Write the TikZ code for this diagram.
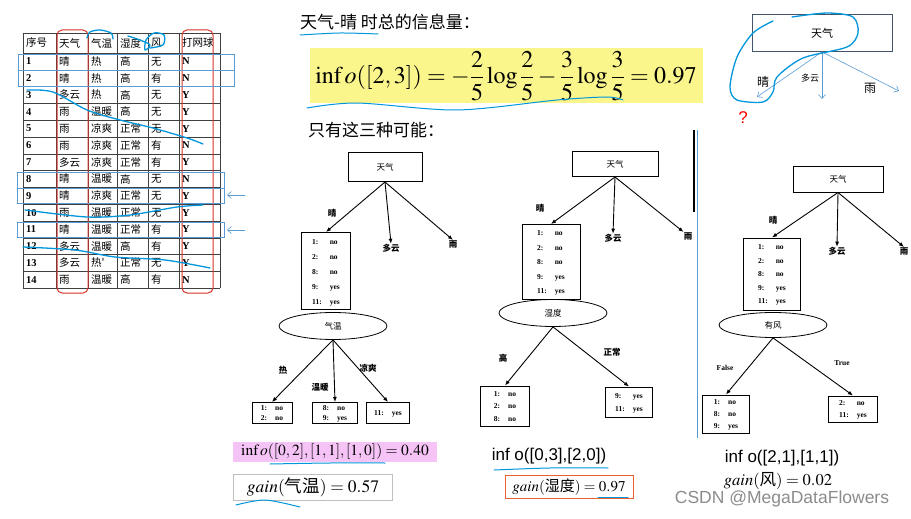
\documentclass[tikz,border=0pt]{standalone}
\usepackage{amsmath}
\usepackage{mathptmx}
\usepackage[no-math]{fontspec}
\setmainfont{Liberation Serif}
\setsansfont{Liberation Sans}
\newfontfamily\cjk{Noto Sans CJK SC}
\usetikzlibrary{arrows.meta,shapes.geometric}
\definecolor{handblue}{RGB}{0,150,220}
\definecolor{boxblue}{RGB}{91,155,213}
\definecolor{boxred}{RGB}{215,50,40}
\definecolor{hlyellow}{RGB}{250,246,140}
\definecolor{hlpink}{RGB}{245,195,245}
\definecolor{boxorange}{RGB}{235,95,45}
\definecolor{slate}{RGB}{68,84,106}
\newcommand\caselist[2][14]{\fontsize{7.5}{#1}\selectfont\bfseries\begin{tabular}{@{}l@{\hspace{8pt}}l@{}}#2\end{tabular}}

\begin{document}
\begin{tikzpicture}[x=1pt,y=-1pt,
    every node/.style={inner sep=0pt},
    tcell/.style={anchor=west,font=\fontsize{10.5}{12}\selectfont},
    grid/.style={draw=black!75,line width=0.5pt},
    redbox/.style={draw=boxred,line width=1pt,rounded corners=5pt},
    bluebox/.style={draw=boxblue,line width=0.7pt},
    barr/.style={draw=boxblue,line width=0.6pt,-{Straight Barb[length=4pt,width=7pt]}},
    hand/.style={draw=handblue,line width=1.3pt,line cap=round,line join=round},
    tbox/.style={draw,line width=1pt,font=\cjk\fontsize{8.5}{9}\selectfont},
    lbox/.style={draw,line width=1pt},
    oval/.style={draw,ellipse,line width=0.8pt,font=\cjk\fontsize{8.5}{9}\selectfont},
    tlab/.style={font=\cjk\fontsize{8.5}{9}\selectfont\bfseries},
    elab/.style={font=\fontsize{7.5}{8}\selectfont\bfseries},
    tarr/.style={line width=0.9pt,-{Latex[length=5pt,width=4pt]}},
  ]
    \fill[white] (0,0) rectangle (911,519);
    \useasboundingbox (0,0) rectangle (911,519);

    \foreach \xx in {23,56,88,117,148,179,220}
        \draw[grid] (\xx,33) -- (\xx,288);
    \draw[grid] (23,33) -- (220,33);
    \foreach \r in {0,...,14}
        \draw[grid] (23,{53+16.8*\r}) -- (220,{53+16.8*\r});
    \node[tcell] (h0) at (26,43) {\cjk 序号};
    \node[tcell] (h1) at (59,43) {\cjk 天气};
    \node[tcell] (h2) at (91,43) {\cjk 气温};
    \node[tcell] (h3) at (120,43) {\cjk 湿度};
    \node[tcell] (h4) at (151,43) {\cjk 风};
    \node[tcell] (h5) at (182,43) {\cjk 打网球};
    \foreach \n/\a/\b/\c/\d/\e [count=\r] in {1/晴/热/高/无/N, 2/晴/热/高/有/N, 3/多云/热/高/无/Y,
        4/雨/温暖/高/无/Y, 5/雨/凉爽/正常/无/Y, 6/雨/凉爽/正常/有/N, 7/多云/凉爽/正常/有/Y,
        8/晴/温暖/高/无/N, 9/晴/凉爽/正常/无/Y, 10/雨/温暖/正常/无/Y, 11/晴/温暖/正常/有/Y,
        12/多云/温暖/高/有/Y, 13/多云/热'/正常/无/Y, 14/雨/温暖/高/有/N} {
        \pgfmathsetmacro\yy{53+16.8*(\r-0.5)}
        \node[tcell] (n\r) at (26,\yy) {\textbf{\n}};
        \node[tcell] (a\r) at (59,\yy) {\cjk \a};
        \node[tcell] (b\r) at (91,\yy) {\cjk \b};
        \node[tcell] (c\r) at (120,\yy) {\cjk \c};
        \node[tcell] (d\r) at (151,\yy) {\cjk \d};
        \node[tcell] (e\r) at (182,\yy) {\textbf{\e}};
    }
    \draw[redbox] (57,30) rectangle (88,293);
    \draw[redbox] (182,30) rectangle (213,293);
    \draw[bluebox] (18,54) rectangle (234,70);
    \draw[bluebox] (18,70) rectangle (234,86);
    \draw[bluebox] (17,172) rectangle (224,188);
    \draw[bluebox] (17,188) rectangle (224,203);
    \draw[bluebox] (17,222) rectangle (224,237);
    \coordinate (p9) at (245,195);
    \coordinate (q9) at (227,195);
    \coordinate (p11) at (245,230);
    \coordinate (q11) at (227,230);
    \draw[barr] (p9) -- (q9);
    \draw[barr] (p11) -- (q11);
    \draw[hand] plot[smooth] coordinates {(87,38) (90,32) (100,30) (111,33) (113,39)};
    \draw[hand] plot[smooth] coordinates {(128,36) (140,40) (150,45) (145,50) (146,40) (154,33) (164,35) (163,45) (150,48)};
    \draw[hand] plot[smooth] coordinates {(27,90) (53,92) (87,110) (120,120) (153,128) (187,138) (203,144)};
    \draw[hand] plot[smooth] coordinates {(25,210) (87,217) (130,215) (177,207) (203,205)};
    \draw[hand] plot[smooth] coordinates {(23,247) (75,250) (115,257) (165,260) (210,268)};

    \node[anchor=west,font=\cjk\fontsize{17}{20}\selectfont] (title) at (300,22) {天气-晴 时总的信息量：};
    \draw[hand,line width=1pt] plot[smooth] coordinates {(300,35) (340,33) (378,34)};
    \node[fill=hlyellow,minimum width=393,minimum height=55] (info) at (506,76)
        {\fontsize{24}{28}\selectfont$\displaystyle\mathrm{inf}\,o([2,3])=-\frac{2}{5}\log\frac{2}{5}-\frac{3}{5}\log\frac{3}{5}=0.97$};
    \draw[hand,line width=1pt] plot[smooth] coordinates {(307,108) (357,103) (457,110) (557,100) (607,97) (623,100)};
    \node[anchor=west,font=\cjk\fontsize{17}{20}\selectfont] (only) at (308,130) {只有这三种可能：};

    \node[draw=slate,line width=0.8pt,minimum width=140,minimum height=37,font=\cjk\fontsize{11}{13}\selectfont] (wroot) at (822,33) {天气};
    \coordinate (wq) at (757,97);
    \coordinate (wc) at (822,99);
    \coordinate (wr) at (899,91);
    \draw[barr] (wroot.south) -- (wq);
    \draw[barr] (wroot.south) -- (wc);
    \draw[barr] (wroot.south) -- (wr);
    \node[font=\cjk\fontsize{12}{14}\selectfont] (wqlab) at (763,82) {晴};
    \node[font=\cjk\fontsize{9}{11}\selectfont] (wclab) at (810,78) {多云};
    \node[font=\cjk\fontsize{12}{14}\selectfont] (wrlab) at (870,88) {雨};
    \node[text=red,font=\sffamily\fontsize{17}{19}\selectfont] (qm) at (743,118) {?};
    \draw[hand] plot[smooth] coordinates {(792,17) (827,13) (853,17) (858,33) (847,47) (803,58) (777,77) (773,92) (763,102) (737,100) (730,87) (737,57) (753,33) (773,21)};

    \node[tbox,minimum width=74,minimum height=29] (root1) at (385,167) {天气};
    \node[lbox,minimum width=49,minimum height=77] (list1) at (326,271)
        {\caselist[15]{1: & no\\ 2: & no\\ 8: & no\\ 9: & yes\\ 11: & yes}};
    \node[tlab] (cloud1) at (391,248) {多云};
    \node[tlab] (rain1) at (453,244) {雨};
    \node[tlab] (sun1) at (332,213) {晴};
    \draw[tarr] (root1.south) -- (list1.north);
    \draw[tarr] (root1.south) -- (cloud1.north);
    \draw[tarr] (root1.south) -- (rain1.north);
    \node[oval,minimum width=108,minimum height=27] (ell1) at (333,326) {气温};
    \node[lbox,minimum width=40,minimum height=21] (leaf11) at (272,413) {\caselist[10]{1: & no\\ 2: & no}};
    \node[lbox,minimum width=45,minimum height=21] (leaf12) at (335,413) {\caselist[10]{8: & no\\ 9: & yes}};
    \node[lbox,minimum width=43,minimum height=21] (leaf13) at (388,413) {\caselist{11: & yes}};
    \draw[tarr] (ell1.south) -- (leaf11.north);
    \draw[tarr] (ell1.south) -- (leaf12.north);
    \draw[tarr] (ell1.south) -- (leaf13.north);
    \node[tlab] (hot1) at (283,370) {热};
    \node[tlab] (warm1) at (320,387) {温暖};
    \node[tlab] (cool1) at (368,368) {凉爽};

    \node[tbox,minimum width=86,minimum height=25] (root2) at (615,164) {天气};
    \node[lbox,minimum width=58,minimum height=75] (list2) at (551,262)
        {\caselist[14.5]{1: & no\\ 2: & no\\ 8: & no\\ 9: & yes\\ 11: & yes}};
    \node[tlab] (cloud2) at (613,238) {多云};
    \node[tlab] (rain2) at (688,236) {雨};
    \node[tlab] (sun2) at (540,208) {晴};
    \draw[tarr] (root2.south) -- (list2.north);
    \draw[tarr] (root2.south) -- (cloud2.north);
    \draw[tarr] (root2.south) -- (rain2.north west);
    \node[oval,minimum width=108,minimum height=27] (ell2) at (553,313) {湿度};
    \node[lbox,minimum width=49,minimum height=40] (leaf21) at (505,406) {\caselist[12.5]{1: & no\\ 2: & no\\ 8: & no}};
    \node[lbox,minimum width=47,minimum height=30] (leaf22) at (629,402) {\caselist[13]{9: & yes\\ 11: & yes}};
    \draw[tarr] (ell2.south) -- (leaf21.north);
    \draw[tarr] (ell2.south) -- (leaf22.north);
    \node[tlab] (high2) at (503,358) {高};
    \node[tlab] (norm2) at (612,352) {正常};
    \draw[line width=2pt] (694,130) -- (694,212);
    \draw[boxblue,line width=1pt] (697,130) -- (697,438);

    \node[tbox,minimum width=90,minimum height=26] (root3) at (838,179) {天气};
    \node[lbox,minimum width=57,minimum height=72] (list3) at (772,274)
        {\caselist[13.5]{1: & no\\ 2: & no\\ 8: & no\\ 9: & yes\\ 11: & yes}};
    \node[tlab] (cloud3) at (837,251) {多云};
    \node[tlab] (rain3) at (904,251) {雨};
    \node[tlab] (sun3) at (773,220) {晴};
    \draw[tarr] (root3.south) -- (list3.north);
    \draw[tarr] (root3.south) -- (cloud3.north);
    \draw[tarr] (root3.south) -- (rain3.north);
    \node[oval,minimum width=108,minimum height=25] (ell3) at (773,325) {有风};
    \node[lbox,minimum width=47,minimum height=38] (leaf31) at (726,414) {\caselist[12]{1: & no\\ 8: & no\\ 9: & yes}};
    \node[lbox,minimum width=49,minimum height=26] (leaf32) at (853,409) {\caselist[12]{2: & no\\ 11: & yes}};
    \draw[tarr] (ell3.south) -- (leaf31.north);
    \draw[tarr] (ell3.south) -- (leaf32.north);
    \node[elab] (false3) at (725,368) {False};
    \node[elab] (true3) at (842,363) {True};

    \node[fill=hlpink,minimum width=204,minimum height=20] (infoA) at (335,452)
        {\fontsize{15.5}{18}\selectfont$\mathrm{inf}\,o([0,2],[1,1],[1,0])=0.40$};
    \draw[hand,line width=1pt] plot[smooth] coordinates {(270,464) (330,463) (385,463)};
    \node[draw=black!25,line width=0.5pt,minimum width=159,minimum height=26] (gainA) at (313,487)
        {\fontsize{17.5}{20}\selectfont$gain(\mbox{\cjk 气温})=0.57$};
    \draw[hand,line width=1pt] plot[smooth] coordinates {(236,505) (265,500) (300,507)};
    \node[font=\sffamily\fontsize{17}{20}\selectfont] (infoB) at (549,456) {inf o([0,3],[2,0])};
    \draw[hand,line width=1pt] plot[smooth] coordinates {(494,470) (550,468) (608,468)};
    \node[draw=boxorange,line width=1pt,minimum width=128,minimum height=23] (gainB) at (569,487)
        {\fontsize{15}{17}\selectfont$gain(\mbox{\cjk 湿度})=0.97$};
    \draw[hand,line width=1pt] (598,497) -- (628,497);
    \node[font=\sffamily\fontsize{17}{20}\selectfont] (infoC) at (782,458) {inf o([2,1],[1,1])};
    \node (gainC) at (778,481) {\fontsize{16.5}{19}\selectfont$gain(\mbox{\cjk 风})=0.02$};
    \node[text=black!45,font=\sffamily\fontsize{17.5}{20}\selectfont] (mark) at (782,499) {CSDN @MegaDataFlowers};
\end{tikzpicture}
\end{document}
